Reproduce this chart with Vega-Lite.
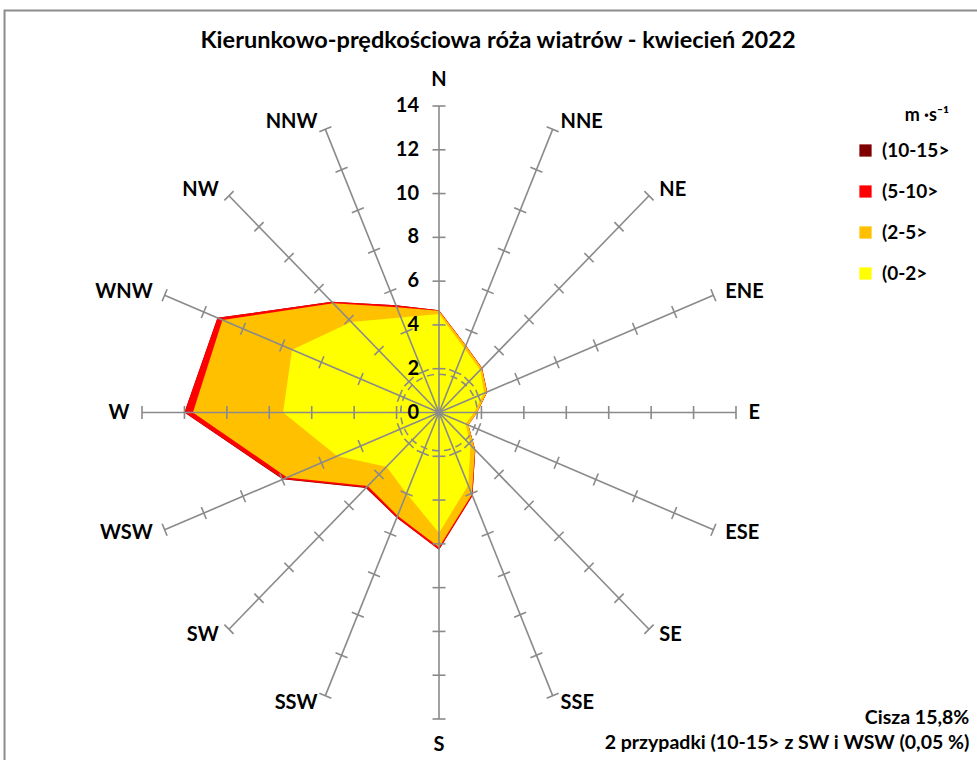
{
  "$schema": "https://vega.github.io/schema/vega-lite/v6.json",
  "width": 594,
  "height": 613,
  "autosize": {"type": "none"},
  "padding": {"left": 142, "top": 106, "right": 241, "bottom": 41},
  "background": "white",
  "config": {"view": {"stroke": null}, "font": "Lato"},
  "title": {
    "text": "Kierunkowo-prędkościowa róża wiatrów - kwiecień 2022",
    "font": "Lato", "fontSize": 23.5, "fontWeight": "bold", "color": "black",
    "anchor": "middle", "frame": "group", "dx": 59, "offset": -55, "baseline": "middle"
  },
  "datasets": {
    "rose": [
      {"dir": "N", "i": 0, "(0-2>": 4.5, "(2-5>": 4.65, "(5-10>": 4.67, "(10-15>": 4.67},
      {"dir": "NNE", "i": 1, "(0-2>": 3.15, "(2-5>": 3.3, "(5-10>": 3.31, "(10-15>": 3.31},
      {"dir": "NE", "i": 2, "(0-2>": 2.75, "(2-5>": 2.86, "(5-10>": 2.87, "(10-15>": 2.87},
      {"dir": "ENE", "i": 3, "(0-2>": 2.3, "(2-5>": 2.45, "(5-10>": 2.46, "(10-15>": 2.46},
      {"dir": "E", "i": 4, "(0-2>": 1.65, "(2-5>": 1.8, "(5-10>": 1.8, "(10-15>": 1.8},
      {"dir": "ESE", "i": 5, "(0-2>": 1.35, "(2-5>": 1.5, "(5-10>": 1.5, "(10-15>": 1.5},
      {"dir": "SE", "i": 6, "(0-2>": 2.1, "(2-5>": 2.4, "(5-10>": 2.42, "(10-15>": 2.42},
      {"dir": "SSE", "i": 7, "(0-2>": 3.6, "(2-5>": 4.05, "(5-10>": 4.12, "(10-15>": 4.12},
      {"dir": "S", "i": 8, "(0-2>": 5.5, "(2-5>": 6.15, "(5-10>": 6.27, "(10-15>": 6.27},
      {"dir": "SSW", "i": 9, "(0-2>": 4.0, "(2-5>": 5.1, "(5-10>": 5.2, "(10-15>": 5.2},
      {"dir": "SW", "i": 10, "(0-2>": 3.5, "(2-5>": 4.75, "(5-10>": 4.85, "(10-15>": 4.88},
      {"dir": "WSW", "i": 11, "(0-2>": 5.2, "(2-5>": 7.75, "(5-10>": 7.95, "(10-15>": 7.98},
      {"dir": "W", "i": 12, "(0-2>": 7.35, "(2-5>": 11.6, "(5-10>": 12.0, "(10-15>": 12.0},
      {"dir": "WNW", "i": 13, "(0-2>": 7.5, "(2-5>": 11.05, "(5-10>": 11.3, "(10-15>": 11.3},
      {"dir": "NW", "i": 14, "(0-2>": 5.85, "(2-5>": 7.05, "(5-10>": 7.15, "(10-15>": 7.15},
      {"dir": "NNW", "i": 15, "(0-2>": 4.7, "(2-5>": 5.2, "(5-10>": 5.3, "(10-15>": 5.3}
    ],
    "dirs": [
      {"dir": "N", "i": 0, "t": [2, 4, 6, 8, 10, 12, 14]},
      {"dir": "NNE", "i": 1, "t": [2, 4, 6, 8, 10, 12, 14]},
      {"dir": "NE", "i": 2, "t": [2, 4, 6, 8, 10, 12, 14]},
      {"dir": "ENE", "i": 3, "t": [2, 4, 6, 8, 10, 12, 14]},
      {"dir": "E", "i": 4, "t": [2, 4, 6, 8, 10, 12, 14]},
      {"dir": "ESE", "i": 5, "t": [2, 4, 6, 8, 10, 12, 14]},
      {"dir": "SE", "i": 6, "t": [2, 4, 6, 8, 10, 12, 14]},
      {"dir": "SSE", "i": 7, "t": [2, 4, 6, 8, 10, 12, 14]},
      {"dir": "S", "i": 8, "t": [2, 4, 6, 8, 10, 12, 14]},
      {"dir": "SSW", "i": 9, "t": [2, 4, 6, 8, 10, 12, 14]},
      {"dir": "SW", "i": 10, "t": [2, 4, 6, 8, 10, 12, 14]},
      {"dir": "WSW", "i": 11, "t": [2, 4, 6, 8, 10, 12, 14]},
      {"dir": "W", "i": 12, "t": [2, 4, 6, 8, 10, 12, 14]},
      {"dir": "WNW", "i": 13, "t": [2, 4, 6, 8, 10, 12, 14]},
      {"dir": "NW", "i": 14, "t": [2, 4, 6, 8, 10, 12, 14]},
      {"dir": "NNW", "i": 15, "t": [2, 4, 6, 8, 10, 12, 14]}
    ],
    "rlabels": [{"v": 0}, {"v": 2}, {"v": 4}, {"v": 6}, {"v": 8}, {"v": 10}, {"v": 12}, {"v": 14}],
    "note1": [{"t": "Cisza 15,8%"}],
    "note2": [{"t": "2 przypadki (10-15> z SW i WSW (0,05 %)"}],
    "frame": [{"k": 1}]
  },
  "layer": [
    {
      "data": {"name": "frame"},
      "mark": {"type": "rect", "fill": null, "fillOpacity": 0, "stroke": "#8c8c8c", "strokeWidth": 2},
      "encoding": {
        "x": {"datum": -20.48, "type": "quantitative", "scale": {"domain": [-14, 14], "nice": false, "zero": false}, "axis": null},
        "x2": {"datum": 27},
        "y": {"datum": 18.36, "type": "quantitative", "scale": {"domain": [-14, 14], "nice": false, "zero": false}, "axis": null},
        "y2": {"datum": -17}
      }
    },
    {
      "data": {"name": "rose"},
      "transform": [
        {"fold": ["(10-15>", "(5-10>", "(2-5>", "(0-2>"], "as": ["cls", "v"]},
        {"calculate": "datum.v * sin(datum.i * PI / 8)", "as": "px"},
        {"calculate": "datum.v * cos(datum.i * PI / 8)", "as": "py"}
      ],
      "mark": {"type": "line", "interpolate": "linear-closed", "strokeWidth": 0, "stroke": "transparent"},
      "encoding": {
        "x": {"field": "px", "type": "quantitative", "scale": {"domain": [-14, 14], "nice": false, "zero": false}, "axis": null},
        "y": {"field": "py", "type": "quantitative", "scale": {"domain": [-14, 14], "nice": false, "zero": false}, "axis": null},
        "order": {"field": "i", "type": "quantitative"},
        "fill": {
          "field": "cls", "type": "nominal",
          "scale": {"domain": ["(10-15>", "(5-10>", "(2-5>", "(0-2>"], "range": ["#7F0000", "#FF0000", "#FFC000", "#FFFF00"]},
          "legend": {
            "orient": "none", "legendX": 714, "legendY": 1,
            "title": "m ·s⁻¹", "titleFont": "Lato", "titleFontSize": 18, "titleFontWeight": "bold", "titleColor": "black",
            "titleAnchor": "end", "titlePadding": 16,
            "labelFont": "Lato", "labelFontSize": 19, "labelFontWeight": "bold", "labelColor": "black",
            "symbolType": "square", "symbolSize": 150, "symbolStrokeWidth": 0, "symbolOpacity": 1,
            "rowPadding": 21, "labelOffset": 7
          }
        }
      }
    },
    {
      "data": {"name": "dirs"},
      "transform": [
        {"calculate": "14 * sin(datum.i * PI / 8)", "as": "ex"},
        {"calculate": "14 * cos(datum.i * PI / 8)", "as": "ey"}
      ],
      "mark": {"type": "rule", "color": "#8a8a8a", "strokeWidth": 1.6},
      "encoding": {
        "x": {"field": "ex", "type": "quantitative", "scale": {"domain": [-14, 14], "nice": false, "zero": false}},
        "y": {"field": "ey", "type": "quantitative", "scale": {"domain": [-14, 14], "nice": false, "zero": false}},
        "x2": {"datum": 0},
        "y2": {"datum": 0}
      }
    },
    {
      "data": {"name": "dirs"},
      "transform": [
        {"flatten": ["t"]},
        {"calculate": "datum.t * sin(datum.i * PI / 8)", "as": "tx"},
        {"calculate": "datum.t * cos(datum.i * PI / 8)", "as": "ty"},
        {"calculate": "datum.i * 22.5", "as": "deg"}
      ],
      "mark": {"type": "point", "shape": "stroke", "size": 169, "filled": false, "stroke": "#8a8a8a", "strokeWidth": 1.6, "opacity": 1},
      "encoding": {
        "x": {"field": "tx", "type": "quantitative", "scale": {"domain": [-14, 14], "nice": false, "zero": false}},
        "y": {"field": "ty", "type": "quantitative", "scale": {"domain": [-14, 14], "nice": false, "zero": false}},
        "angle": {"field": "deg", "type": "quantitative", "scale": null}
      }
    },
    {
      "data": {"values": [{"c": 0}]},
      "mark": {"type": "point", "shape": "circle", "size": 5860, "filled": false, "stroke": "#8a8a8a", "strokeWidth": 1.6, "strokeDash": [7, 5], "opacity": 1},
      "encoding": {
        "x": {"field": "c", "type": "quantitative", "scale": {"domain": [-14, 14], "nice": false, "zero": false}},
        "y": {"field": "c", "type": "quantitative", "scale": {"domain": [-14, 14], "nice": false, "zero": false}}
      }
    },
    {
      "data": {"name": "dirs"},
      "transform": [
        {"filter": "datum.i >= 1 && datum.i <= 7"},
        {"calculate": "14.35 * sin(datum.i * PI / 8)", "as": "lx"},
        {"calculate": "14.35 * cos(datum.i * PI / 8)", "as": "ly"}
      ],
      "mark": {"type": "text", "font": "Lato", "fontSize": 20, "fontWeight": "bold", "color": "black", "align": "left", "baseline": "middle", "dx": 5},
      "encoding": {
        "x": {"field": "lx", "type": "quantitative", "scale": {"domain": [-14, 14], "nice": false, "zero": false}},
        "y": {"field": "ly", "type": "quantitative", "scale": {"domain": [-14, 14], "nice": false, "zero": false}},
        "text": {"field": "dir"}
      }
    },
    {
      "data": {"name": "dirs"},
      "transform": [
        {"filter": "datum.i >= 9"},
        {"calculate": "14.35 * sin(datum.i * PI / 8)", "as": "lx"},
        {"calculate": "14.35 * cos(datum.i * PI / 8)", "as": "ly"}
      ],
      "mark": {"type": "text", "font": "Lato", "fontSize": 20, "fontWeight": "bold", "color": "black", "align": "right", "baseline": "middle", "dx": -5},
      "encoding": {
        "x": {"field": "lx", "type": "quantitative", "scale": {"domain": [-14, 14], "nice": false, "zero": false}},
        "y": {"field": "ly", "type": "quantitative", "scale": {"domain": [-14, 14], "nice": false, "zero": false}},
        "text": {"field": "dir"}
      }
    },
    {
      "data": {"name": "dirs"},
      "transform": [
        {"filter": "datum.i == 0 || datum.i == 8"},
        {"calculate": "15.2 * sin(datum.i * PI / 8)", "as": "lx"},
        {"calculate": "15.2 * cos(datum.i * PI / 8)", "as": "ly"}
      ],
      "mark": {"type": "text", "font": "Lato", "fontSize": 20, "fontWeight": "bold", "color": "black", "align": "center", "baseline": "middle"},
      "encoding": {
        "x": {"field": "lx", "type": "quantitative", "scale": {"domain": [-14, 14], "nice": false, "zero": false}},
        "y": {"field": "ly", "type": "quantitative", "scale": {"domain": [-14, 14], "nice": false, "zero": false}},
        "text": {"field": "dir"}
      }
    },
    {
      "data": {"name": "rlabels"},
      "transform": [{"calculate": "0", "as": "z"}],
      "mark": {"type": "text", "font": "Lato", "fontSize": 20, "fontWeight": "bold", "color": "black", "align": "right", "baseline": "middle", "dx": -20},
      "encoding": {
        "x": {"field": "z", "type": "quantitative", "scale": {"domain": [-14, 14], "nice": false, "zero": false}},
        "y": {"field": "v", "type": "quantitative", "scale": {"domain": [-14, 14], "nice": false, "zero": false}},
        "text": {"field": "v"}
      }
    },
    {
      "data": {"name": "note1"},
      "mark": {"type": "text", "font": "Lato", "fontSize": 19.5, "fontWeight": "bold", "color": "black", "align": "right", "baseline": "middle"},
      "encoding": {
        "x": {"datum": 25, "type": "quantitative", "scale": {"domain": [-14, 14], "nice": false, "zero": false}},
        "y": {"datum": -13.95, "type": "quantitative", "scale": {"domain": [-14, 14], "nice": false, "zero": false}},
        "text": {"field": "t"}
      }
    },
    {
      "data": {"name": "note2"},
      "mark": {"type": "text", "font": "Lato", "fontSize": 19.5, "fontWeight": "bold", "color": "black", "align": "right", "baseline": "middle"},
      "encoding": {
        "x": {"datum": 25, "type": "quantitative", "scale": {"domain": [-14, 14], "nice": false, "zero": false}},
        "y": {"datum": -15.1, "type": "quantitative", "scale": {"domain": [-14, 14], "nice": false, "zero": false}},
        "text": {"field": "t"}
      }
    }
  ]
}
